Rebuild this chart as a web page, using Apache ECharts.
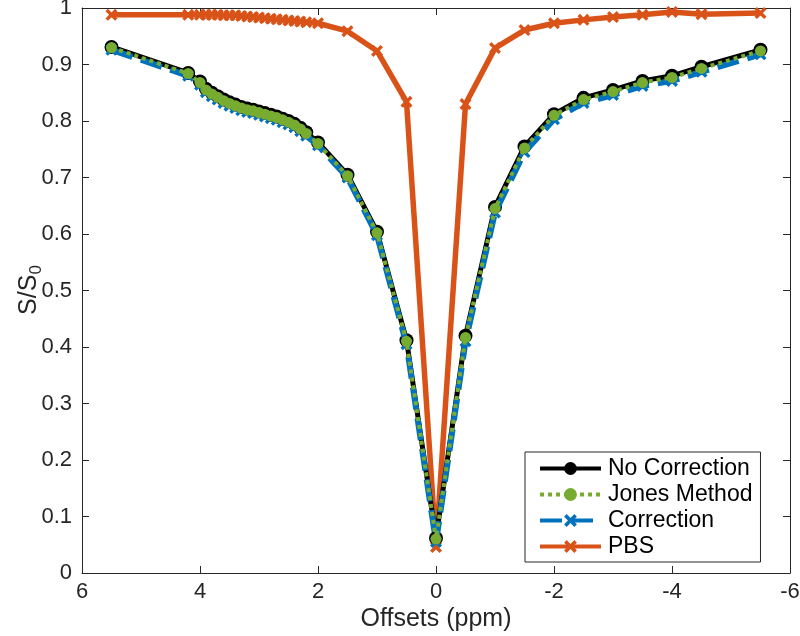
<!DOCTYPE html>
<html>
<head>
<meta charset="utf-8">
<script src="https://cdn.jsdelivr.net/npm/echarts@6/dist/echarts.min.js"></script>
<style>
html,body{margin:0;padding:0;background:#fff;}
#chart{width:800px;height:636px;}
</style>
</head>
<body>
<div id="chart"></div>
<script>
// Frequency offsets (ppm)
const offsets = [5.5, 4.2, 4.0, 3.9, 3.8, 3.7, 3.6, 3.5, 3.4, 3.3, 3.2, 3.1, 3.0, 2.9, 2.8, 2.7, 2.6, 2.5, 2.4, 2.3, 2.2, 2.0, 1.5, 1.0, 0.5, 0, -0.5, -1.0, -1.5, -2.0, -2.5, -3.0, -3.5, -4.0, -4.5, -5.5];

const noCorrection = [0.931, 0.885, 0.870, 0.857, 0.850, 0.844, 0.838, 0.833, 0.829, 0.825, 0.822, 0.820, 0.817, 0.814, 0.811, 0.808, 0.804, 0.800, 0.795, 0.788, 0.780, 0.762, 0.705, 0.604, 0.412, 0.062, 0.420, 0.648, 0.755, 0.812, 0.841, 0.855, 0.871, 0.880, 0.896, 0.926];

const jonesMethod = [0.930, 0.884, 0.868, 0.855, 0.848, 0.842, 0.836, 0.831, 0.827, 0.823, 0.820, 0.818, 0.815, 0.812, 0.809, 0.806, 0.802, 0.798, 0.793, 0.786, 0.778, 0.760, 0.703, 0.602, 0.410, 0.060, 0.417, 0.645, 0.752, 0.810, 0.838, 0.852, 0.868, 0.877, 0.893, 0.924];

const correction = [0.926, 0.880, 0.864, 0.851, 0.844, 0.838, 0.832, 0.827, 0.823, 0.819, 0.816, 0.814, 0.811, 0.808, 0.805, 0.802, 0.798, 0.794, 0.789, 0.782, 0.774, 0.757, 0.700, 0.598, 0.405, 0.055, 0.410, 0.638, 0.745, 0.803, 0.832, 0.846, 0.862, 0.871, 0.887, 0.918];

const pbs = [0.988, 0.988, 0.988, 0.988, 0.988, 0.988, 0.987, 0.987, 0.987, 0.986, 0.985, 0.984, 0.983, 0.982, 0.981, 0.980, 0.979, 0.978, 0.977, 0.976, 0.975, 0.973, 0.959, 0.924, 0.834, 0.046, 0.830, 0.929, 0.961, 0.973, 0.979, 0.984, 0.988, 0.993, 0.989, 0.991];

const seriesNames = ['No Correction', 'Jones Method', 'Correction', 'PBS'];
const xTicks = {min: -6, max: 6, interval: 2};
const yTicks = {min: 0, max: 1, interval: 0.1};
const xTitle = 'Offsets (ppm)';
const yTitle = 'S/S{sub|0}';

function pairs(ys) { return offsets.map((x, i) => [x, ys[i]]); }

const axisColor = '#262626';
const font = '"Liberation Sans", Arial, Helvetica, sans-serif';
const xMark = 'path://M0,2 L2,0 L5,3 L8,0 L10,2 L7,5 L10,8 L8,10 L5,7 L2,10 L0,8 L3,5 Z';

const chart = echarts.init(document.getElementById('chart'), null, {renderer: 'canvas'});

const baseAxisLine = {show: true, onZero: false, lineStyle: {color: axisColor, width: 1}};

chart.setOption({
  animation: false,
  backgroundColor: '#fff',
  textStyle: {fontFamily: font},
  grid: {left: 82, right: 10, top: 8, bottom: 63, containLabel: false, outerBoundsMode: 'none'},
  graphic: [{
    type: 'text', x: 29, y: 290, rotation: Math.PI / 2, silent: true,
    style: {
      text: yTitle, fill: axisColor, fontSize: 25, fontFamily: font,
      align: 'center', verticalAlign: 'middle',
      rich: {sub: {fontSize: 17, verticalAlign: 'bottom', padding: [14, 0, 0, 0], fill: axisColor, fontFamily: font}}
    }
  }],
  xAxis: [{
    type: 'value', inverse: true,
    min: xTicks.min, max: xTicks.max, interval: xTicks.interval,
    axisLine: baseAxisLine,
    axisTick: {show: true, inside: true, length: 7, lineStyle: {color: axisColor}},
    axisLabel: {color: axisColor, fontSize: 22, margin: 8, fontFamily: font},
    splitLine: {show: false},
    name: xTitle, nameLocation: 'middle', nameGap: 34, nameMoveOverlap: false,
    nameTextStyle: {color: axisColor, fontSize: 25, fontFamily: font}
  }, {
    type: 'value', inverse: true, position: 'top',
    min: xTicks.min, max: xTicks.max, interval: xTicks.interval,
    axisLine: baseAxisLine,
    axisTick: {show: true, inside: true, length: 7, lineStyle: {color: axisColor}},
    axisLabel: {show: false}, splitLine: {show: false}
  }],
  yAxis: [{
    type: 'value',
    min: yTicks.min, max: yTicks.max, interval: yTicks.interval,
    axisLine: baseAxisLine,
    axisTick: {show: true, inside: true, length: 7, lineStyle: {color: axisColor}},
    axisLabel: {color: axisColor, fontSize: 22, margin: 10, fontFamily: font,
      formatter: v => (Math.round(v * 10) / 10).toString()},
    splitLine: {show: false}
  }, {
    type: 'value', position: 'right',
    min: yTicks.min, max: yTicks.max, interval: yTicks.interval,
    axisLine: baseAxisLine,
    axisTick: {show: true, inside: true, length: 7, lineStyle: {color: axisColor}},
    axisLabel: {show: false}, splitLine: {show: false}
  }],
  legend: {
    data: seriesNames,
    orient: 'vertical',
    left: 525, top: 452,
    padding: [5, 8, 4, 13],
    itemWidth: 61, itemHeight: 16, itemGap: 3,
    borderColor: axisColor, borderWidth: 1, borderRadius: 0,
    backgroundColor: '#fff',
    lineStyle: {width: 4},
    textStyle: {color: '#000', fontSize: 23, fontFamily: font, lineHeight: 23, padding: [0, 0, 0, 2]}
  },
  series: [
    {
      name: 'PBS', type: 'line', data: pairs(pbs), z: 2,
      symbol: xMark, symbolSize: 12,
      lineStyle: {color: '#D95319', width: 5.5},
      itemStyle: {color: '#D95319'}
    },
    {
      name: 'No Correction', type: 'line', data: pairs(noCorrection), z: 3,
      symbol: 'circle', symbolSize: 14,
      lineStyle: {color: '#000', width: 5},
      itemStyle: {color: '#000'}
    },
    {
      name: 'Correction', type: 'line', data: pairs(correction), z: 4,
      symbol: xMark, symbolSize: 12,
      lineStyle: {color: '#0072BD', width: 6, type: [22, 9]},
      itemStyle: {color: '#0072BD'}
    },
    {
      name: 'Jones Method', type: 'line', data: pairs(jonesMethod), z: 5,
      symbol: 'circle', symbolSize: 11,
      lineStyle: {color: '#77AC30', width: 4, type: [4, 4]},
      itemStyle: {color: '#77AC30'}
    }
  ]
});
</script>
</body>
</html>
